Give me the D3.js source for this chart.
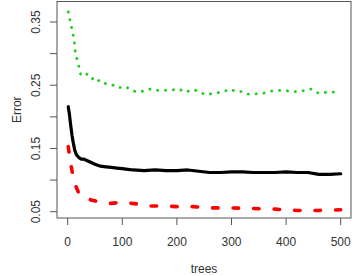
<!DOCTYPE html>
<html>
<head>
<meta charset="utf-8">
<script src="https://cdn.jsdelivr.net/npm/d3@7"></script>
<style>
  body { margin: 0; background: #fff; }
  text { font-family: "Liberation Sans", Arial, sans-serif; fill: #333; }
</style>
</head>
<body>
<svg width="357" height="276"></svg>
<script>
// OOB error (black, solid)
var oobTrees = [1, 3, 5, 8, 10, 13, 16, 20, 25, 30, 35, 40, 45, 50, 60, 70, 80, 90, 100, 110, 120, 140, 160, 180, 200, 220, 240, 260, 280, 300, 320, 340, 360, 380, 400, 420, 440, 460, 480, 500]
var oobError = [0.216, 0.205, 0.19, 0.17, 0.16, 0.147, 0.14, 0.136, 0.133, 0.133, 0.131, 0.129, 0.127, 0.125, 0.122, 0.121, 0.12, 0.119, 0.118, 0.117, 0.116, 0.115, 0.116, 0.115, 0.115, 0.116, 0.114, 0.112, 0.112, 0.113, 0.113, 0.112, 0.112, 0.112, 0.113, 0.112, 0.112, 0.109, 0.109, 0.11]

// class 1 error (red, dashed)
var c1Trees = [1, 5, 10, 15, 20, 30, 45, 60, 75, 90, 110, 130, 150, 180, 200, 230, 260, 300, 340, 380, 420, 460, 500]
var c1Error = [0.153, 0.128, 0.105, 0.09, 0.08, 0.072, 0.068, 0.065, 0.063, 0.064, 0.064, 0.062, 0.059, 0.059, 0.058, 0.058, 0.056, 0.056, 0.055, 0.054, 0.052, 0.052, 0.053]

// class 2 error (green, dotted)
var c2Trees = [1, 4, 9, 12, 14, 20, 24, 30, 43, 48, 61, 68, 79, 87, 94, 105, 120, 129, 140, 149, 162, 175, 187, 204, 217, 224, 232, 243, 255, 266, 275, 286, 297, 308, 319, 330, 339, 357, 375, 388, 402, 417, 430, 446, 460, 475, 490, 500]
var c2Error = [0.366, 0.354, 0.334, 0.32, 0.301, 0.282, 0.266, 0.269, 0.265, 0.256, 0.258, 0.253, 0.25, 0.25, 0.246, 0.248, 0.241, 0.239, 0.241, 0.244, 0.242, 0.242, 0.242, 0.244, 0.239, 0.242, 0.243, 0.238, 0.235, 0.237, 0.238, 0.24, 0.244, 0.24, 0.24, 0.236, 0.236, 0.237, 0.241, 0.242, 0.241, 0.24, 0.241, 0.244, 0.237, 0.239, 0.239, 0.239]

var xTicks = [0, 100, 200, 300, 400, 500]
var yTicks = [0.05, 0.10, 0.15, 0.20, 0.25, 0.30, 0.35]
var yLabels = [0.05, 0.15, 0.25, 0.35]

var svg = d3.select("svg")
var box = {left: 57, right: 351, top: 1.5, bottom: 218}

var x = d3.scaleLinear().domain([0, 500]).range([67.7, 340.7])
var y = d3.scaleLinear().domain([0.05, 0.35]).range([211.7, 22])

var line = d3.line().x(d => x(d[0])).y(d => y(d[1]))

function draw(trees, vals, color, width, dash) {
  svg.append("path")
    .datum(trees.map((t, i) => [t, vals[i]]))
    .attr("d", line)
    .attr("fill", "none")
    .attr("stroke", color)
    .attr("stroke-width", width)
    .attr("stroke-linecap", "round")
    .attr("stroke-linejoin", "round")
    .attr("stroke-dasharray", dash)
}

draw(c2Trees, c2Error, "#22cc22", 2.8, "0.3,7.6")
draw(oobTrees, oobError, "#000", 3.2, null)
draw(c1Trees, c1Error, "#ff0000", 3.6, "5.5,15")

// plot frame
svg.append("rect")
  .attr("x", box.left).attr("y", box.top)
  .attr("width", box.right - box.left).attr("height", box.bottom - box.top)
  .attr("fill", "none").attr("stroke", "#555")

// x axis ticks
svg.selectAll(".xt").data(xTicks).enter().append("line")
  .attr("x1", d => x(d)).attr("x2", d => x(d))
  .attr("y1", box.bottom).attr("y2", box.bottom + 7)
  .attr("stroke", "#555")
svg.selectAll(".xl").data(xTicks).enter().append("text")
  .attr("x", d => x(d)).attr("y", 246)
  .attr("text-anchor", "middle").attr("font-size", 12)
  .text(d => d)

// y axis ticks
svg.selectAll(".yt").data(yTicks).enter().append("line")
  .attr("x1", box.left - 7).attr("x2", box.left)
  .attr("y1", d => y(d)).attr("y2", d => y(d))
  .attr("stroke", "#555")
svg.selectAll(".yl").data(yLabels).enter().append("text")
  .attr("transform", d => "translate(40," + y(d) + ") rotate(-90)")
  .attr("text-anchor", "middle").attr("font-size", 12)
  .text(d => d3.format(".2f")(d))

svg.append("text")
  .attr("x", (box.left + box.right) / 2).attr("y", 273)
  .attr("text-anchor", "middle").attr("font-size", 12)
  .text("trees")

svg.append("text")
  .attr("transform", "translate(21," + (box.top + box.bottom) / 2 + ") rotate(-90)")
  .attr("text-anchor", "middle").attr("font-size", 12)
  .text("Error")
</script>
</body>
</html>
